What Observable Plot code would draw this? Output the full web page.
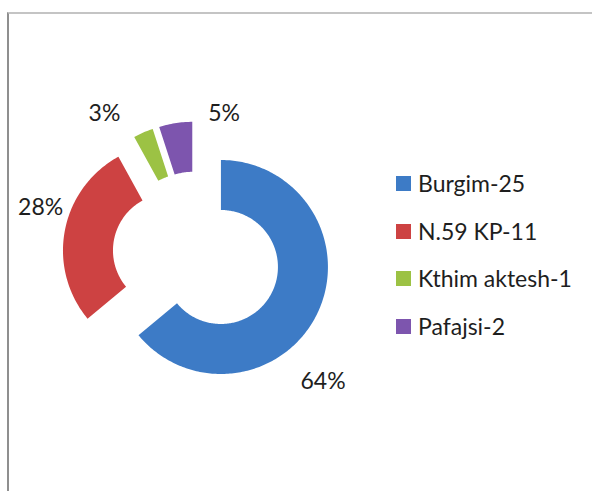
<!DOCTYPE html>
<html>
<head>
<meta charset="utf-8">
<script src="https://cdn.jsdelivr.net/npm/d3@7"></script>
<script src="https://cdn.jsdelivr.net/npm/@observablehq/plot@0.6"></script>
<style>
  html, body { margin: 0; padding: 0; background: #fff; }
  #wrap { position: relative; width: 592px; height: 491px; overflow: hidden; font-family: Lato, "Open Sans", sans-serif; }
  #frame { position: absolute; left: 7px; top: 12px; right: -10px; bottom: -10px;
           border-left: 2px solid #8f8f8f; border-top: 2px solid #c4c4c4; }
  #chart { position: absolute; left: 0; top: 0; }
  .leg { position: absolute; left: 396px; display: flex; align-items: center; height: 30px;
         font-size: 23px; color: #1e1e1e; white-space: nowrap; }
  .leg span.sw { display: inline-block; width: 15px; height: 15px; margin-right: 7px; }
</style>
</head>
<body>
<div id="wrap">
  <div id="frame"></div>
  <div id="chart"></div>
</div>
<script>
// ---- data ----
const categories = ["Burgim-25", "N.59 KP-11", "Kthim aktesh-1", "Pafajsi-2"];
const values = [64, 28, 3, 5];
const labels = ["64%", "28%", "3%", "5%"];
const colors = ["#3d7bc6", "#cd4242", "#9cc244", "#7d55ae"];

// ---- layout (pixels) ----
const W = 592, H = 491;
const cx = 196, cy = 255, R = 107, r = 57, explode = 27;
// label anchor placement: angle (deg, clockwise from top) and distance from centre
const labelAngle = [135, 287, 327, 11];
const labelDist = [179, 163, 169, 145];

const pie = d3.pie().sort(null).value(d => d.value).startAngle(0).endAngle(2 * Math.PI);
const rows = categories.map((c, i) => ({cat: c, value: values[i], label: labels[i]}));
const arcs = pie(rows);

const pts = [];
arcs.forEach(a => {
  const mid = (a.startAngle + a.endAngle) / 2;
  const ox = cx + explode * Math.sin(mid), oy = cy - explode * Math.cos(mid);
  const n = Math.max(8, Math.ceil((a.endAngle - a.startAngle) * 60));
  for (let k = 0; k <= n; k++) {
    const t = a.startAngle + (a.endAngle - a.startAngle) * k / n;
    pts.push({cat: a.data.cat, x: ox + R * Math.sin(t), y: oy - R * Math.cos(t)});
  }
  for (let k = n; k >= 0; k--) {
    const t = a.startAngle + (a.endAngle - a.startAngle) * k / n;
    pts.push({cat: a.data.cat, x: ox + r * Math.sin(t), y: oy - r * Math.cos(t)});
  }
});

const labelPts = rows.map((d, i) => {
  const t = labelAngle[i] * Math.PI / 180;
  return {label: d.label, x: cx + labelDist[i] * Math.sin(t), y: cy - labelDist[i] * Math.cos(t)};
});

const chart = Plot.plot({
  width: W, height: H,
  margin: 0,
  x: {domain: [0, W], range: [0, W], axis: null},
  y: {domain: [0, H], range: [0, H], axis: null},
  color: {domain: categories, range: colors},
  style: {background: "transparent", overflow: "visible"},
  marks: [
    Plot.line(pts, {x: "x", y: "y", z: "cat", fill: "cat", stroke: "none"}),
    Plot.text(labelPts, {x: "x", y: "y", text: "label", fontSize: 23, fontFamily: "Lato, 'Open Sans', sans-serif", fill: "#1e1e1e"})
  ]
});
document.getElementById("chart").appendChild(chart);

// legend
const legendTop = [168, 216, 263, 311];
const wrap = document.getElementById("wrap");
categories.forEach((c, i) => {
  const el = document.createElement("div");
  el.className = "leg";
  el.style.top = legendTop[i] + "px";
  const sw = document.createElement("span");
  sw.className = "sw";
  sw.style.background = colors[i];
  el.appendChild(sw);
  el.appendChild(document.createTextNode(c));
  wrap.appendChild(el);
});
</script>
</body>
</html>
